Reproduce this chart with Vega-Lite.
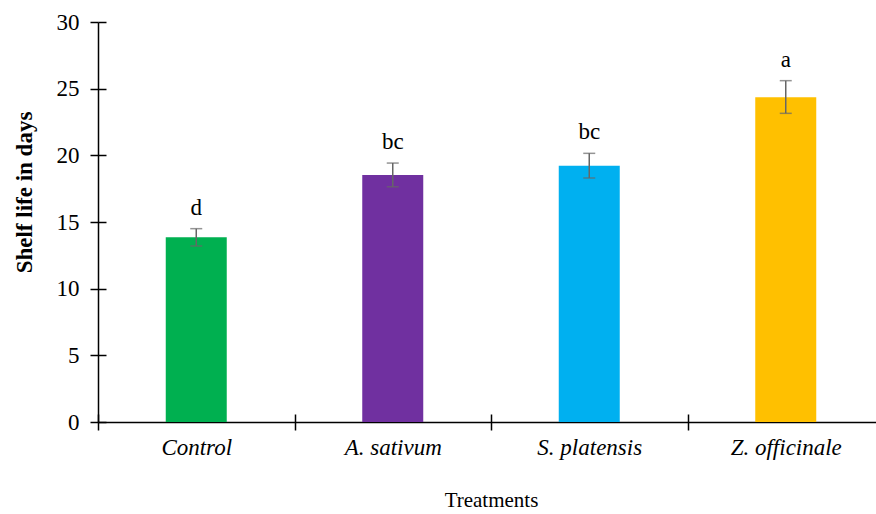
{
  "$schema": "https://vega.github.io/schema/vega-lite/v6.json",
  "width": 778,
  "height": 400,
  "autosize": {"type": "none"},
  "padding": {"left": 98, "top": 22, "right": 0, "bottom": 92},
  "background": "white",
  "config": {
    "view": {"stroke": null},
    "axis": {
      "domainColor": "black", "domainWidth": 1.5,
      "tickColor": "black", "tickWidth": 1.5,
      "labelFont": "Liberation Serif", "labelColor": "black",
      "titleFont": "Liberation Serif", "titleColor": "black",
      "grid": false
    }
  },
  "data": {"values": [
    {"Treatment": "Control", "Mean": 13.85, "Lower": 13.2, "Upper": 14.5, "Letter": "d"},
    {"Treatment": "A. sativum", "Mean": 18.53, "Lower": 17.64, "Upper": 19.42, "Letter": "bc"},
    {"Treatment": "S. platensis", "Mean": 19.22, "Lower": 18.3, "Upper": 20.15, "Letter": "bc"},
    {"Treatment": "Z. officinale", "Mean": 24.35, "Lower": 23.15, "Upper": 25.6, "Letter": "a"}
  ]},
  "layer": [
    {
      "mark": {"type": "bar", "size": 61},
      "encoding": {
        "x": {"field": "Treatment", "type": "nominal", "sort": null,
              "scale": {"range": [0, 786], "paddingInner": 0, "paddingOuter": 0},
              "axis": {"orient": "bottom", "title": "Treatments", "titleFontSize": 21, "titleFontWeight": "normal",
                       "titleY": 78, "titleBaseline": "middle",
                       "labelAngle": 0, "labelFontSize": 23, "labelFontStyle": "italic", "labelPadding": 6,
                       "tickSize": 8, "tickBand": "extent"}},
        "y": {"field": "Mean", "type": "quantitative",
              "scale": {"domain": [0, 30], "nice": false},
              "axis": {"orient": "left", "values": [0, 5, 10, 15, 20, 25, 30], "title": "Shelf life in days",
                       "titleFontSize": 23, "titleFontWeight": "bold", "titleX": -74, "titleY": 170,
                       "titleAlign": "center", "titleBaseline": "middle", "titleAngle": -90,
                       "labelFontSize": 23, "labelPadding": 11, "tickSize": 8}},
        "color": {"field": "Treatment", "type": "nominal", "sort": null,
                  "scale": {"domain": ["Control", "A. sativum", "S. platensis", "Z. officinale"],
                            "range": ["#00B050", "#7030A0", "#00B0F0", "#FFC000"]},
                  "legend": null}
      }
    },
    {
      "mark": {"type": "rule", "color": "#666666", "strokeWidth": 1.5},
      "encoding": {
        "x": {"field": "Treatment", "type": "nominal", "sort": null,
              "axis": {"orient": "bottom", "title": null, "labels": false, "domain": false, "tickSize": -8, "tickBand": "extent"}},
        "y": {"field": "Lower", "type": "quantitative",
              "axis": {"orient": "left", "title": null, "labels": false, "domain": false, "tickSize": -8, "values": [0, 5, 10, 15, 20, 25, 30]}},
        "y2": {"field": "Upper"}
      }
    },
    {
      "mark": {"type": "tick", "color": "#666666", "size": 12, "thickness": 1.5},
      "encoding": {
        "x": {"field": "Treatment", "type": "nominal", "sort": null, "axis": null},
        "y": {"field": "Lower", "type": "quantitative", "axis": null}
      }
    },
    {
      "mark": {"type": "tick", "color": "#666666", "size": 12, "thickness": 1.5},
      "encoding": {
        "x": {"field": "Treatment", "type": "nominal", "sort": null, "axis": null},
        "y": {"field": "Upper", "type": "quantitative", "axis": null}
      }
    },
    {
      "mark": {"type": "text", "font": "Liberation Serif", "fontSize": 23, "color": "black", "baseline": "bottom", "dy": -9},
      "encoding": {
        "x": {"field": "Treatment", "type": "nominal", "sort": null, "axis": null},
        "y": {"field": "Upper", "type": "quantitative", "axis": null},
        "text": {"field": "Letter"}
      }
    }
  ],
  "resolve": {"axis": {"x": "independent", "y": "independent"}}
}
